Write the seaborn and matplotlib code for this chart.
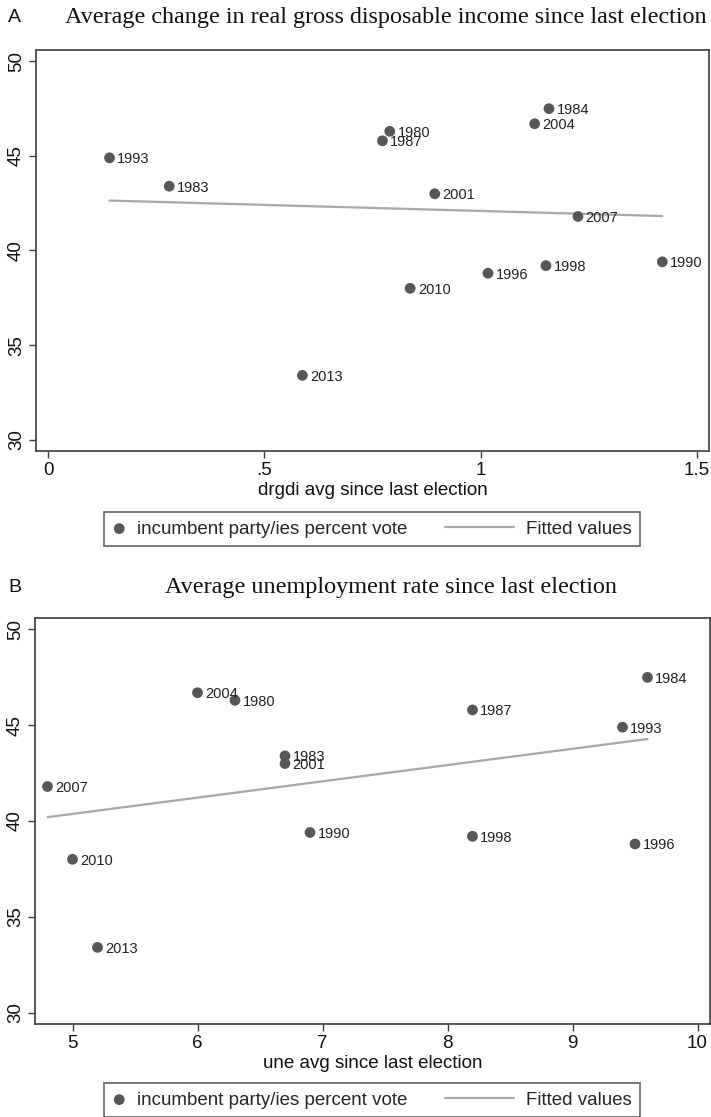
import matplotlib
matplotlib.use('Agg')
import matplotlib.pyplot as plt
from matplotlib.legend_handler import HandlerLine2D
from matplotlib.ticker import FuncFormatter
import seaborn as sns
import pandas as pd

# election data
years = [1980, 1983, 1984, 1987, 1990, 1993, 1996, 1998, 2001, 2004, 2007, 2010, 2013]
vote = [46.3, 43.4, 47.5, 45.8, 39.4, 44.9, 38.8, 39.2, 43.0, 46.7, 41.8, 38.0, 33.4]
drgdi = [0.79, 0.28, 1.158, 0.773, 1.42, 0.142, 1.017, 1.151, 0.894, 1.125, 1.225, 0.837, 0.588]
une = [6.3, 6.7, 9.6, 8.2, 6.9, 9.4, 9.5, 8.2, 6.7, 6.0, 4.8, 5.0, 5.2]

df = pd.DataFrame({'year': years, 'vote': vote, 'drgdi': drgdi, 'une': une})

sns.set_theme(style='ticks')
plt.rcParams['font.family'] = ['Liberation Sans', 'DejaVu Sans']

W, H = 711, 1117
fig = plt.figure(figsize=(W / 100, H / 100), dpi=100)

FRAME = '#3c3c3c'
DOT = '#575757'
FIT = '#a8a8a8'


class WideLine(HandlerLine2D):
    # longer handle just for the fitted line entry
    def legend_artist(self, legend, orig_handle, fontsize, handlebox):
        handlebox.width = 3.7 * fontsize
        return super().legend_artist(legend, orig_handle, fontsize, handlebox)


def stata_fmt(v, pos):
    s = f'{v:g}'
    if s.startswith('0.'):
        s = s[1:]
    return s


def px_rect(left, top, right, bottom):
    return [left / W, 1 - bottom / H, (right - left) / W, (bottom - top) / H]


def draw_panel(rect, xcol, xlim, xticks, xlabel, letter, title, title_y, title_x, legend_y):
    ax = fig.add_axes(rect)
    sns.scatterplot(data=df, x=xcol, y='vote', ax=ax, color=DOT, s=60,
                    edgecolor='none', zorder=3, legend=False)
    dots = ax.collections[-1]
    dots.set_label('incumbent party/ies percent vote')
    sns.regplot(data=df, x=xcol, y='vote', ax=ax, scatter=False, ci=None,
                color=FIT, line_kws={'lw': 1.6, 'zorder': 2})
    fit_line = ax.lines[-1]
    fit_line.set_label('Fitted values')
    for _, r in df.iterrows():
        ax.annotate(str(int(r['year'])), (r[xcol], r['vote']), xytext=(5.5, -1),
                    textcoords='offset points', ha='left', va='center',
                    fontsize=10.5, color='#222222')

    ax.set_xlim(*xlim)
    ax.set_ylim(29.4, 50.6)
    ax.set_xticks(xticks)
    ax.set_yticks([30, 35, 40, 45, 50])
    ax.xaxis.set_major_formatter(FuncFormatter(stata_fmt))
    ax.set_xlabel(xlabel, fontsize=13.5, labelpad=2, color='#111111')
    ax.set_ylabel('')
    ax.tick_params(axis='both', length=5, width=1, color=FRAME, labelsize=13.5,
                   labelcolor='#111111', pad=3)
    ax.tick_params(axis='y', labelrotation=90)
    for lab in ax.get_yticklabels():
        lab.set_va('center')
    for sp in ax.spines.values():
        sp.set_visible(True)
        sp.set_color(FRAME)
        sp.set_linewidth(1.2)

    fig.text(8 / W, 1 - title_y / H, letter, fontsize=14, va='center', ha='left',
             color='#111111')
    fig.text(title_x / W, 1 - title_y / H, title, fontsize=17.4, va='center',
             ha='center', family=['Liberation Serif', 'DejaVu Serif'], color='#111111')

    leg = fig.legend([dots, fit_line], [dots.get_label(), fit_line.get_label()],
                     loc='center', ncol=2,
                     bbox_to_anchor=(372 / W, 1 - legend_y / H),
                     fontsize=13.5, frameon=True, fancybox=False,
                     edgecolor=FRAME, handlelength=0.7, handletextpad=0.6,
                     columnspacing=2.0, borderpad=0.45,
                     handler_map={fit_line: WideLine()})
    leg.get_frame().set_linewidth(1.2)
    return ax


draw_panel(px_rect(36, 50, 709, 451), 'drgdi', (-0.028, 1.528), [0, 0.5, 1, 1.5],
           'drgdi avg since last election', 'A',
           'Average change in real gross disposable income since last election',
           18, 386, 529)

draw_panel(px_rect(35, 618, 710, 1024), 'une', (4.70, 10.1), [5, 6, 7, 8, 9, 10],
           'une avg since last election', 'B',
           'Average unemployment rate since last election',
           587, 391, 1100)

fig.savefig('out.png', dpi=100)
